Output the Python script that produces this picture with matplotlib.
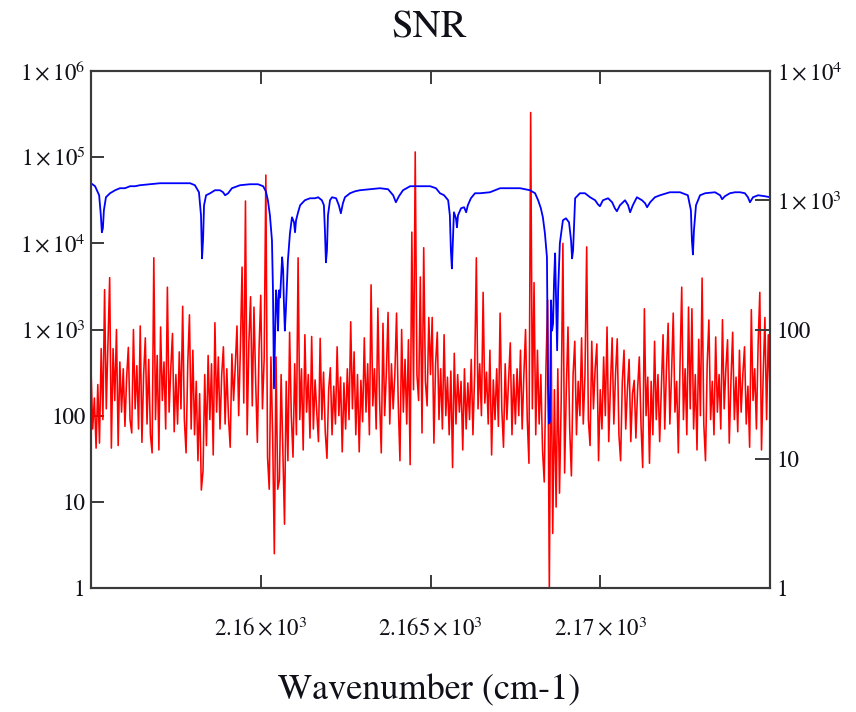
import numpy as np
import matplotlib
matplotlib.use('Agg')
import matplotlib.pyplot as plt
from matplotlib.ticker import FixedLocator, FixedFormatter, NullLocator

plt.rcParams['font.family'] = ['STIXGeneral', 'Liberation Serif', 'DejaVu Serif']
plt.rcParams['mathtext.fontset'] = 'stix'

# SNR (left axis), evenly sampled from 2155 to 2175 cm-1
snr = [
    350, 70, 160, 42, 230, 48, 600, 90, 2900, 120,
    700, 4000, 42, 600, 150, 1000, 45, 420, 110, 350,
    75, 280, 620, 90, 63, 1000, 120, 380, 70, 1100,
    49, 300, 800, 80, 450, 60, 37, 6800, 90, 500,
    40, 1070, 150, 420, 70, 3100, 110, 350, 900, 65,
    300, 80, 550, 120, 1860, 90, 37, 400, 1480, 70,
    575, 60, 250, 30, 180, 13.7, 23, 300, 45, 500,
    90, 400, 35, 1200, 110, 480, 70, 300, 630, 80,
    350, 95, 43, 520, 150, 380, 1100, 100, 600, 5300,
    140, 31000, 60, 700, 2400, 130, 1820, 250, 49, 600,
    2500, 120, 450, 62000, 33, 14, 480, 60, 2.5, 480,
    14, 18, 300, 40, 5.5, 250, 30, 930, 100, 33,
    400, 60, 6800, 90, 350, 40, 870, 110, 300, 55,
    830, 70, 260, 110, 50, 790, 90, 320, 65, 32,
    200, 360, 60, 220, 80, 630, 100, 280, 38, 240,
    70, 350, 90, 1230, 120, 550, 60, 300, 38, 257,
    85, 800, 110, 400, 60, 3300, 130, 350, 70, 1770,
    150, 37, 1180, 100, 320, 1580, 80, 400, 120, 300,
    1550, 140, 30, 1000, 110, 450, 80, 760, 27, 13500,
    200, 115000, 300, 150, 4070, 63, 8900, 250, 130, 1380,
    300, 1380, 48, 400, 930, 90, 350, 70, 870, 100,
    280, 60, 330, 25, 530, 80, 300, 110, 250, 40,
    350, 70, 240, 90, 450, 60, 300, 6800, 120, 400,
    100, 2700, 140, 320, 80, 575, 35, 260, 90, 350,
    75, 1550, 120, 43, 400, 90, 260, 700, 60, 300,
    80, 350, 100, 575, 70, 300, 1000, 90, 28, 330000,
    120, 3500, 60, 575, 80, 300, 40, 17, 350, 2200,
    0.9, 1300, 4.3, 200, 8.7, 350, 12.6, 150, 10000, 21.6,
    200, 1070, 70, 20, 300, 730, 60, 250, 100, 800,
    80, 300, 9100, 90, 45, 730, 120, 350, 680, 30,
    200, 70, 480, 100, 1070, 50, 220, 800, 80, 300,
    780, 60, 30, 250, 575, 70, 200, 450, 50, 180,
    257, 55, 200, 480, 80, 25, 1740, 100, 280, 28,
    250, 60, 730, 90, 300, 50, 200, 870, 70, 350,
    1180, 80, 300, 1550, 110, 250, 37, 400, 3100, 90,
    350, 60, 1820, 120, 1740, 70, 300, 40, 770, 100,
    3950, 80, 30, 400, 1290, 90, 250, 60, 820, 110,
    300, 70, 1300, 120, 350, 760, 48, 250, 930, 90,
    280, 65, 575, 110, 300, 630, 80, 220, 43, 1700,
    150, 350, 70, 680, 2700, 40, 300, 1380, 90, 870,
    200,
]
wn_snr = np.linspace(2155.0, 2175.0, len(snr))

# signal (right axis)
wn_sig = [
    2155.00, 2155.12, 2155.24, 2155.29, 2155.32, 2155.35, 2155.38, 2155.44, 2155.56, 2155.71,
    2155.85, 2156.00, 2156.15, 2156.30, 2156.44, 2156.74, 2157.03, 2157.33, 2157.62, 2157.92,
    2158.06, 2158.18, 2158.24, 2158.27, 2158.30, 2158.33, 2158.39, 2158.51, 2158.65, 2158.80,
    2158.89, 2158.95, 2159.04, 2159.15, 2159.39, 2159.68, 2159.92, 2160.07, 2160.15, 2160.21,
    2160.27, 2160.33, 2160.36, 2160.39, 2160.42, 2160.45, 2160.48, 2160.51, 2160.54, 2160.57,
    2160.63, 2160.66, 2160.68, 2160.71, 2160.74, 2160.80, 2160.86, 2160.92, 2160.98, 2161.01,
    2161.04, 2161.10, 2161.16, 2161.30, 2161.45, 2161.60, 2161.69, 2161.80, 2161.86, 2161.89,
    2161.92, 2161.95, 2161.98, 2162.04, 2162.10, 2162.22, 2162.30, 2162.36, 2162.42, 2162.48,
    2162.63, 2162.78, 2162.92, 2163.22, 2163.51, 2163.75, 2163.90, 2163.98, 2164.07, 2164.19,
    2164.40, 2164.69, 2164.99, 2165.16, 2165.28, 2165.40, 2165.52, 2165.57, 2165.60, 2165.63,
    2165.66, 2165.69, 2165.75, 2165.78, 2165.81, 2165.90, 2165.99, 2166.05, 2166.10, 2166.19,
    2166.31, 2166.46, 2166.75, 2167.05, 2167.34, 2167.64, 2167.93, 2168.08, 2168.17, 2168.25,
    2168.31, 2168.37, 2168.43, 2168.46, 2168.49, 2168.52, 2168.55, 2168.58, 2168.61, 2168.64,
    2168.67, 2168.70, 2168.73, 2168.76, 2168.81, 2168.90, 2168.99, 2169.08, 2169.14, 2169.17,
    2169.20, 2169.26, 2169.40, 2169.55, 2169.70, 2169.85, 2169.93, 2169.99, 2170.08, 2170.23,
    2170.35, 2170.43, 2170.49, 2170.58, 2170.73, 2170.82, 2170.88, 2170.96, 2171.08, 2171.23,
    2171.32, 2171.38, 2171.47, 2171.61, 2171.76, 2172.05, 2172.35, 2172.58, 2172.67, 2172.70,
    2172.73, 2172.76, 2172.82, 2172.94, 2173.09, 2173.38, 2173.53, 2173.59, 2173.67, 2173.82,
    2173.97, 2174.12, 2174.26, 2174.35, 2174.41, 2174.50, 2174.65, 2174.85, 2175.00,
]
sig = [
    1354, 1284, 1093, 765, 565, 607, 837, 1055, 1133, 1195,
    1239, 1239, 1284, 1284, 1307, 1330, 1354, 1354, 1354, 1354,
    1307, 1153, 765, 355, 490, 915, 1093, 1133, 1195, 1195,
    1153, 1093, 1133, 1239, 1307, 1330, 1330, 1284, 1174, 1000,
    765, 490, 201, 35, 82, 201, 168, 98, 201, 177,
    362, 287, 168, 98, 141, 343, 555, 738, 675, 565,
    700, 807, 915, 1000, 1036, 1036, 1055, 1000, 915, 586,
    331, 410, 765, 1000, 1055, 1036, 915, 793, 948, 1055,
    1133, 1174, 1195, 1217, 1239, 1217, 1093, 965, 1074, 1195,
    1284, 1284, 1284, 1239, 1133, 1093, 1000, 765, 410, 297,
    490, 807, 725, 618, 765, 867, 883, 807, 915, 1036,
    1133, 1133, 1153, 1239, 1239, 1239, 1195, 1133, 1000, 867,
    738, 555, 362, 38, 18.7, 19.4, 168, 98, 111, 240,
    388, 168, 69, 201, 464, 700, 725, 675, 490, 355,
    410, 1036, 1133, 1133, 1055, 1000, 931, 899, 1000, 1036,
    965, 867, 822, 915, 1000, 915, 807, 915, 1055, 1000,
    948, 883, 965, 1055, 1093, 1153, 1153, 1093, 837, 490,
    381, 586, 915, 1093, 1133, 1153, 1093, 1018, 1074, 1133,
    1153, 1153, 1133, 1055, 965, 1055, 1093, 1074, 1055,
]

xticks = [2160, 2165, 2170]
xtick_labels = [r'$2.16\times10^{3}$', r'$2.165\times10^{3}$', r'$2.17\times10^{3}$']
left_ticks = [1, 10, 100, 1e3, 1e4, 1e5, 1e6]
left_labels = ['1', '10', '100', r'$1\times10^{3}$', r'$1\times10^{4}$',
               r'$1\times10^{5}$', r'$1\times10^{6}$']
right_ticks = [1, 10, 100, 1e3, 1e4]
right_labels = ['1', '10', '100', r'$1\times10^{3}$', r'$1\times10^{4}$']

txt = '#101018'
frame = '#3a3a3a'

fig = plt.figure(figsize=(8.56, 7.12), dpi=100)
ax = fig.add_axes([91 / 856, 1 - 588 / 712, 679 / 856, 517 / 712])
ax2 = ax.twinx()

ax.plot(wn_snr, snr, color='#ff0000', lw=1.15)
ax2.plot(wn_sig, sig, color='#0000ff', lw=1.3)

ax.set_xlim(2155, 2175)
ax.set_yscale('log')
ax.set_ylim(1, 1e6)
ax2.set_yscale('log')
ax2.set_ylim(1, 1e4)

ax.xaxis.set_major_locator(FixedLocator(xticks))
ax.xaxis.set_major_formatter(FixedFormatter(xtick_labels))
ax.yaxis.set_major_locator(FixedLocator(left_ticks))
ax.yaxis.set_major_formatter(FixedFormatter(left_labels))
ax.yaxis.set_minor_locator(NullLocator())
ax2.yaxis.set_major_locator(FixedLocator(right_ticks))
ax2.yaxis.set_major_formatter(FixedFormatter(right_labels))
ax2.yaxis.set_minor_locator(NullLocator())

ax.tick_params(axis='x', direction='in', top=True, length=9.5, width=1.4,
               color=frame, labelsize=16.5, labelcolor=txt, pad=21)
ax.tick_params(axis='y', direction='in', right=False, length=9.5, width=1.4,
               color=frame, labelsize=16.5, labelcolor=txt, pad=4)
ax2.tick_params(axis='y', direction='in', length=10.5, width=1.4,
                color=frame, labelsize=16.5, labelcolor=txt, pad=5)

for a in (ax, ax2):
    for s in a.spines.values():
        s.set_color(frame)
        s.set_linewidth(1.5)

fig.text(0.5012, 1 - 37 / 712, 'SNR', ha='center', va='baseline',
         fontsize=28, color=txt)
fig.text(0.5012, 1 - 699 / 712, 'Wavenumber (cm-1)', ha='center', va='baseline',
         fontsize=26, color=txt)

fig.savefig('out.png', dpi=100)
